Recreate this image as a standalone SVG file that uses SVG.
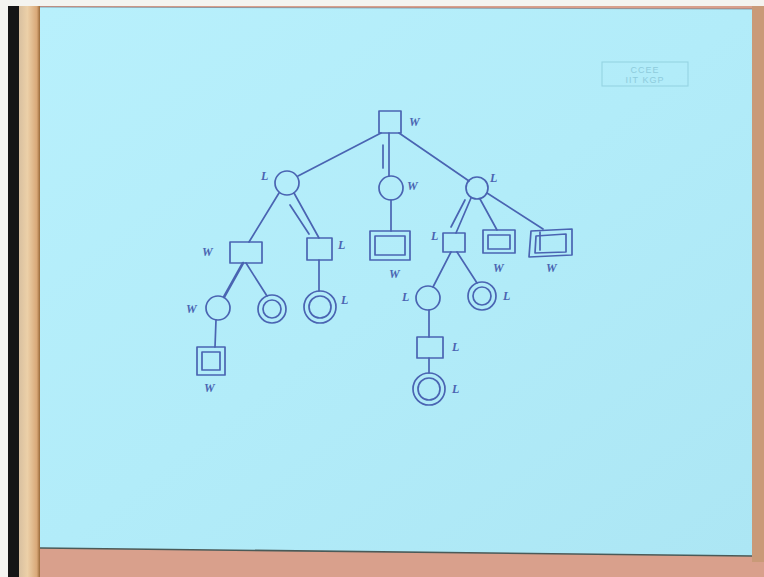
<svg xmlns="http://www.w3.org/2000/svg" width="764" height="577" viewBox="0 0 764 577">
  <defs>
    <linearGradient id="paper" x1="0" y1="0" x2="1" y2="1">
      <stop offset="0" stop-color="#b8f0fc"/>
      <stop offset="0.5" stop-color="#b2ecf9"/>
      <stop offset="1" stop-color="#ace6f4"/>
    </linearGradient>
    <linearGradient id="wood" x1="0" y1="0" x2="1" y2="0">
      <stop offset="0" stop-color="#d8c0a0"/>
      <stop offset="0.4" stop-color="#ecd0a8"/>
      <stop offset="0.85" stop-color="#d9a878"/>
      <stop offset="1" stop-color="#9a6a3a"/>
    </linearGradient>
    <style>
      .ink { fill: none; stroke: #4a64b2; stroke-width: 1.7; stroke-linecap: round; stroke-linejoin: round; }
      .bold { stroke-width: 2.6; }
      .lbl { font-family: "Liberation Serif", serif; font-style: italic; font-weight: bold; font-size: 12px; fill: #4a64b2; }
      .stamp { font-family: "Liberation Sans", sans-serif; font-size: 9px; fill: #86c4d6; text-anchor: middle; letter-spacing: 1px; }
    </style>
  </defs>

  <!-- surroundings: margin, dark edge, wooden frame, table -->
  <rect x="0" y="0" width="764" height="577" fill="#f4f4f0"/>
  <rect x="8" y="6" width="756" height="571" fill="#d9a08c"/>
  <rect x="8" y="6" width="11" height="571" fill="#151515"/>
  <rect x="19" y="6" width="21" height="571" fill="url(#wood)"/>
  <rect x="752" y="6" width="12" height="556" fill="#c99a78"/>

  <!-- sheet of paper -->
  <polygon points="40,7 752,9 752,556 40,548" fill="url(#paper)"/>
  <line x1="40" y1="548" x2="752" y2="556" stroke="#4a5a58" stroke-width="1.6"/>
  <line x1="40" y1="7" x2="752" y2="9" stroke="#556" stroke-width="0.8" opacity="0.6"/>

  <!-- faint stamp in the corner -->
  <g id="stamp" opacity="0.8">
    <rect x="602" y="62" width="86" height="24" fill="none" stroke="#8ccbdc" stroke-width="1"/>
    <text class="stamp" x="645" y="73">CCEE</text>
    <text class="stamp" x="645" y="83">IIT KGP</text>
  </g>

  <!-- connectors -->
  <g id="connectors" class="ink">
    <line x1="381" y1="133" x2="298" y2="176"/>
    <line x1="399" y1="133" x2="469" y2="181"/>
    <line x1="389" y1="133" x2="389" y2="176"/>
    <line x1="383" y1="145" x2="383" y2="168"/>

    <line x1="279" y1="193" x2="249" y2="242"/>
    <line x1="294" y1="193" x2="319" y2="238"/>
    <line x1="290" y1="205" x2="309" y2="234"/>

    <line class="bold" x1="243" y1="263" x2="224" y2="297"/>
    <line x1="246" y1="263" x2="267" y2="296"/>
    <line x1="216" y1="320" x2="215" y2="347"/>
    <line x1="319" y1="260" x2="319" y2="291"/>

    <line x1="391" y1="200" x2="391" y2="231"/>

    <line x1="471" y1="198" x2="456" y2="233"/>
    <line x1="465" y1="200" x2="451" y2="227"/>
    <line x1="480" y1="199" x2="497" y2="230"/>
    <line x1="487" y1="193" x2="543" y2="229"/>

    <line x1="451" y1="252" x2="433" y2="287"/>
    <line x1="457" y1="252" x2="477" y2="283"/>
    <line x1="429" y1="310" x2="429" y2="337"/>
    <line x1="429" y1="358" x2="429" y2="373"/>
  </g>

  <!-- root -->
  <g id="root">
    <rect class="ink" x="379" y="111" width="22" height="22"/>
    <text class="lbl" x="409" y="126">W</text>
  </g>

  <!-- first level -->
  <g id="n-left">
    <circle class="ink" cx="287" cy="183" r="12"/>
    <text class="lbl" x="261" y="180">L</text>
  </g>
  <g id="n-mid">
    <circle class="ink" cx="391" cy="188" r="12"/>
    <text class="lbl" x="407" y="190">W</text>
  </g>
  <g id="n-right">
    <circle class="ink" cx="477" cy="188" r="11"/>
    <text class="lbl" x="490" y="182">L</text>
  </g>

  <!-- under the left circle -->
  <g id="n-left-w">
    <rect class="ink" x="230" y="242" width="32" height="21"/>
    <text class="lbl" x="202" y="256">W</text>
  </g>
  <g id="n-left-l">
    <rect class="ink" x="307" y="238" width="25" height="22"/>
    <text class="lbl" x="338" y="249">L</text>
  </g>
  <g id="n-left-w-circle">
    <circle class="ink" cx="218" cy="308" r="12"/>
    <text class="lbl" x="186" y="313">W</text>
  </g>
  <g id="n-left-w-end">
    <circle class="ink" cx="272" cy="309" r="14"/>
    <circle class="ink" cx="272" cy="309" r="9"/>
  </g>
  <g id="n-left-w-circle-end">
    <rect class="ink" x="197" y="347" width="28" height="28"/>
    <rect class="ink" x="202" y="352" width="18" height="18"/>
    <text class="lbl" x="204" y="392">W</text>
  </g>
  <g id="n-left-l-end">
    <circle class="ink" cx="320" cy="307" r="16"/>
    <circle class="ink" cx="320" cy="307" r="11"/>
    <text class="lbl" x="341" y="304">L</text>
  </g>

  <!-- under the middle circle -->
  <g id="n-mid-end">
    <rect class="ink" x="370" y="231" width="40" height="29"/>
    <rect class="ink" x="375" y="236" width="30" height="19"/>
    <text class="lbl" x="389" y="278">W</text>
  </g>

  <!-- under the right circle -->
  <g id="n-right-l">
    <rect class="ink" x="443" y="233" width="22" height="19"/>
    <text class="lbl" x="431" y="240">L</text>
  </g>
  <g id="n-right-w1">
    <rect class="ink" x="483" y="230" width="32" height="23"/>
    <rect class="ink" x="488" y="235" width="22" height="14"/>
    <text class="lbl" x="493" y="272">W</text>
  </g>
  <g id="n-right-w2">
    <path class="ink" d="M531,231 L572,229 L572,255 L529,257 Z"/>
    <path class="ink" d="M536,236 L566,234 L566,252 L535,253 Z"/>
    <path class="ink" d="M540,232 L540,250"/>
    <text class="lbl" x="546" y="272">W</text>
  </g>
  <g id="n-right-l-circle">
    <circle class="ink" cx="428" cy="298" r="12"/>
    <text class="lbl" x="402" y="301">L</text>
  </g>
  <g id="n-right-l-end">
    <circle class="ink" cx="482" cy="296" r="14"/>
    <circle class="ink" cx="482" cy="296" r="9"/>
    <text class="lbl" x="503" y="300">L</text>
  </g>
  <g id="n-right-l-square">
    <rect class="ink" x="417" y="337" width="26" height="21"/>
    <text class="lbl" x="452" y="351">L</text>
  </g>
  <g id="n-right-l-square-end">
    <circle class="ink" cx="429" cy="389" r="16"/>
    <circle class="ink" cx="429" cy="389" r="11"/>
    <text class="lbl" x="452" y="393">L</text>
  </g>
</svg>
